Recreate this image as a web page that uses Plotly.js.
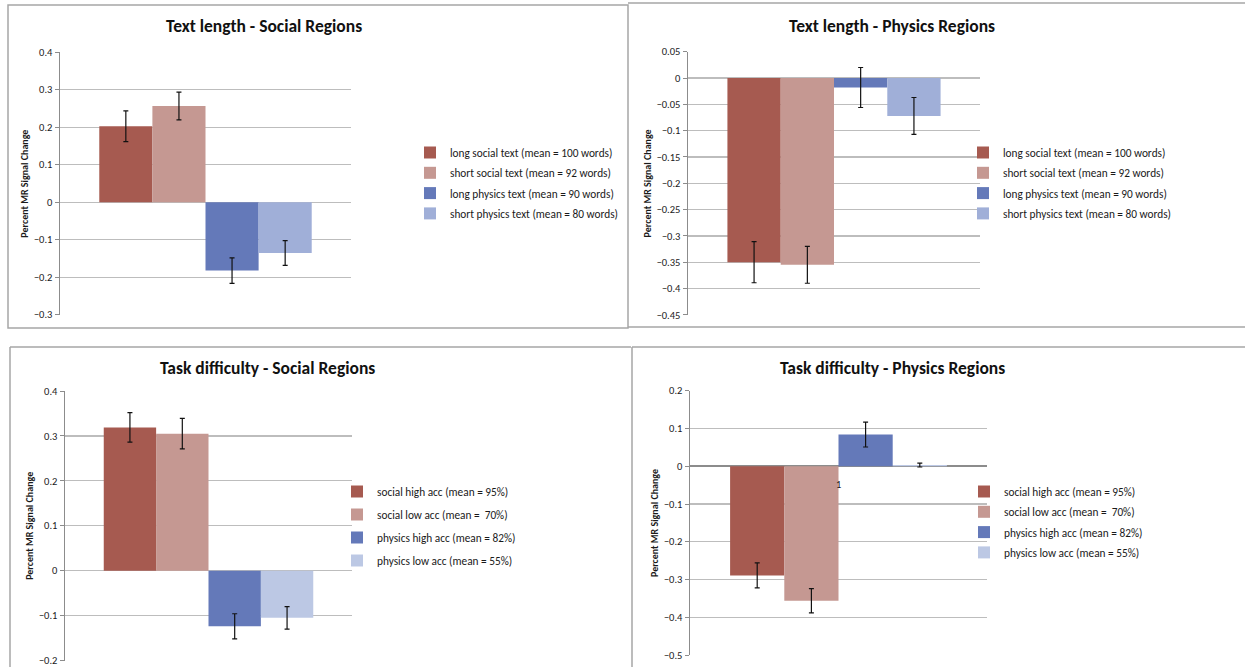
<!DOCTYPE html>
<html><head><meta charset="utf-8">
<script src="https://cdn.plot.ly/plotly-3.0.1.min.js"></script>
<style>html,body{margin:0;padding:0;background:#fff}</style>
</head><body><div id="chart" style="width:1245px;height:667px"></div>
<script>
// ---- data ----
const category = ['1'];
const textLengthNames = ['long social text (mean = 100 words)', 'short social text (mean = 92 words)', 'long physics text (mean = 90 words)', 'short physics text (mean = 80 words)'];
const taskDifficultyNames = ['social high acc (mean = 95%)', 'social low acc (mean =  70%)', 'physics high acc (mean = 82%)', 'physics low acc (mean = 55%)'];
const panelTitles = ['Text length - Social Regions', 'Text length - Physics Regions', 'Task difficulty - Social Regions', 'Task difficulty - Physics Regions'];
const yTitle = 'Percent MR Signal Change';

const textLengthSocial = [0.203, 0.257, -0.182, -0.135];
const textLengthSocialErr = [0.041, 0.037, 0.034, 0.033];
const textLengthPhysics = [-0.350, -0.355, -0.018, -0.072];
const textLengthPhysicsErr = [0.039, 0.035, 0.038, 0.035];
const taskDiffSocial = [0.319, 0.305, -0.124, -0.105];
const taskDiffSocialErr = [0.033, 0.034, 0.028, 0.025];
const taskDiffPhysics = [-0.289, -0.356, 0.084, 0.003];
const taskDiffPhysicsErr = [0.033, 0.032, 0.033, 0.005];

// ---- styling ----
const W = 1245, H = 667;
const px = x => x / W, py = y => 1 - y / H;
const FONT = 'Carlito, Lato, "Liberation Sans", sans-serif';
const colorsTop = ['#A65A50', '#C59892', '#6479B9', '#A0AFD8'];
const colorsBottom = ['#A65A50', '#C59892', '#6479B9', '#BCC8E4'];

const panels = [
  {vals: textLengthSocial, err: textLengthSocialErr, names: textLengthNames, colors: colorsTop, ax: '', leg: 'legend',
   dom: [60, 351], ydom: [52.3, 315], range: [-0.3005, 0.4], dtick: 0.1, title: [264, 26]},
  {vals: textLengthPhysics, err: textLengthPhysicsErr, names: textLengthNames, colors: colorsTop, ax: '2', leg: 'legend2',
   dom: [688, 980], ydom: [51.7, 315], range: [-0.4503, 0.05], dtick: 0.05, title: [892, 26]},
  {vals: taskDiffSocial, err: taskDiffSocialErr, names: taskDifficultyNames, colors: colorsBottom, ax: '3', leg: 'legend3',
   dom: [65, 352], ydom: [391, 660.7], range: [-0.2005, 0.4], dtick: 0.1, title: [267, 368]},
  {vals: taskDiffPhysics, err: taskDiffPhysicsErr, names: taskDifficultyNames, colors: colorsBottom, ax: '4', leg: 'legend4',
   dom: [690, 987], ydom: [390.7, 655.3], range: [-0.5005, 0.2], dtick: 0.1, title: [892, 368]}
];

const traces = [];
const layout = {
  width: W, height: H, margin: {l: 0, r: 0, t: 0, b: 0},
  paper_bgcolor: '#fff', plot_bgcolor: '#fff',
  barmode: 'group', bargap: 0.27, bargroupgap: 0,
  font: {family: FONT, color: '#222'},
  showlegend: true,
  annotations: [], shapes: []
};

const legendPos = [
  {x: 410, y: 138, gap: 1.3},
  {x: 963, y: 138, gap: 1.3},
  {x: 337, y: 477, gap: 4},
  {x: 964, y: 477, gap: 1.3}
];

panels.forEach((p, pi) => {
  p.vals.forEach((v, i) => {
    traces.push({
      type: 'bar', x: category, y: [v], name: p.names[i],
      xaxis: 'x' + p.ax, yaxis: 'y' + p.ax, legend: p.leg, legendgroup: p.leg + '_' + i,
      marker: {color: p.colors[i], line: {width: 0}},
      error_y: {type: 'data', array: [p.err[i]], visible: true, color: '#111', thickness: 1.2, width: 2.5},
      hoverinfo: 'y+name'
    });
  });
  layout['xaxis' + p.ax] = {
    domain: [px(p.dom[0]), px(p.dom[1])], anchor: 'y' + p.ax, type: 'category',
    range: [-0.5, 0.5], autorange: false,
    showticklabels: false, showgrid: false, zeroline: false, showline: false, ticks: ''
  };
  layout['yaxis' + p.ax] = {
    domain: [py(p.ydom[1]), py(p.ydom[0])], anchor: 'x' + p.ax,
    range: p.range, autorange: false, dtick: p.dtick, tick0: 0,
    showline: true, linecolor: '#8C8C8C', linewidth: 1.5,
    ticks: 'outside', ticklen: 4, tickcolor: '#8C8C8C', tickwidth: 1,
    showgrid: true, gridcolor: '#BDBDBD', gridwidth: 1.3,
    zeroline: pi === 3, zerolinecolor: '#8C8C8C', zerolinewidth: 1.6,
    ticklabeloverflow: 'allow',
    tickfont: {size: 10.5, family: FONT, color: '#1a1a1a'},
    title: {text: yTitle, font: {size: 10, family: FONT, weight: 'bold', color: '#1a1a1a'}, standoff: 3}
  };
  const lp = legendPos[pi];
  layout[p.leg] = {
    x: px(lp.x), y: py(lp.y), xanchor: 'left', yanchor: 'top',
    font: {size: 11.3, family: FONT, color: '#1a1a1a'}, bgcolor: 'rgba(0,0,0,0)', borderwidth: 0,
    tracegroupgap: lp.gap, traceorder: 'grouped'
  };
  layout.annotations.push({
    xref: 'paper', yref: 'paper', x: px(p.title[0]), y: py(p.title[1]),
    xanchor: 'center', yanchor: 'middle', showarrow: false, text: panelTitles[pi],
    font: {size: 17.5, family: FONT, weight: 'bold', color: '#111'}
  });
});

// category label on the zero line of the last panel
layout.annotations.push({
  xref: 'x4', yref: 'y4', x: 0, y: 0, yanchor: 'top', yshift: -10,
  showarrow: false, text: category[0], font: {size: 10.5, family: FONT, color: '#1a1a1a'}
});

// chart frames
const frameLine = {color: '#A6A6A6', width: 1.5};
const L = (x0, y0, x1, y1) => ({type: 'line', xref: 'paper', yref: 'paper', x0: px(x0), y0: py(y0), x1: px(x1), y1: py(y1), line: frameLine, layer: 'below'});
layout.shapes.push(
  {type: 'rect', xref: 'paper', yref: 'paper', x0: px(8), y0: py(328), x1: px(628), y1: py(5), line: frameLine, layer: 'below'},
  L(628, 3, 1245, 3), L(628, 327, 1245, 327),
  L(10, 347, 631, 347), L(10, 347, 10, 667),
  L(632, 347, 1245, 347), L(632, 347, 632, 667)
);

Plotly.newPlot('chart', traces, layout, {displayModeBar: false, staticPlot: true});
</script></body></html>
